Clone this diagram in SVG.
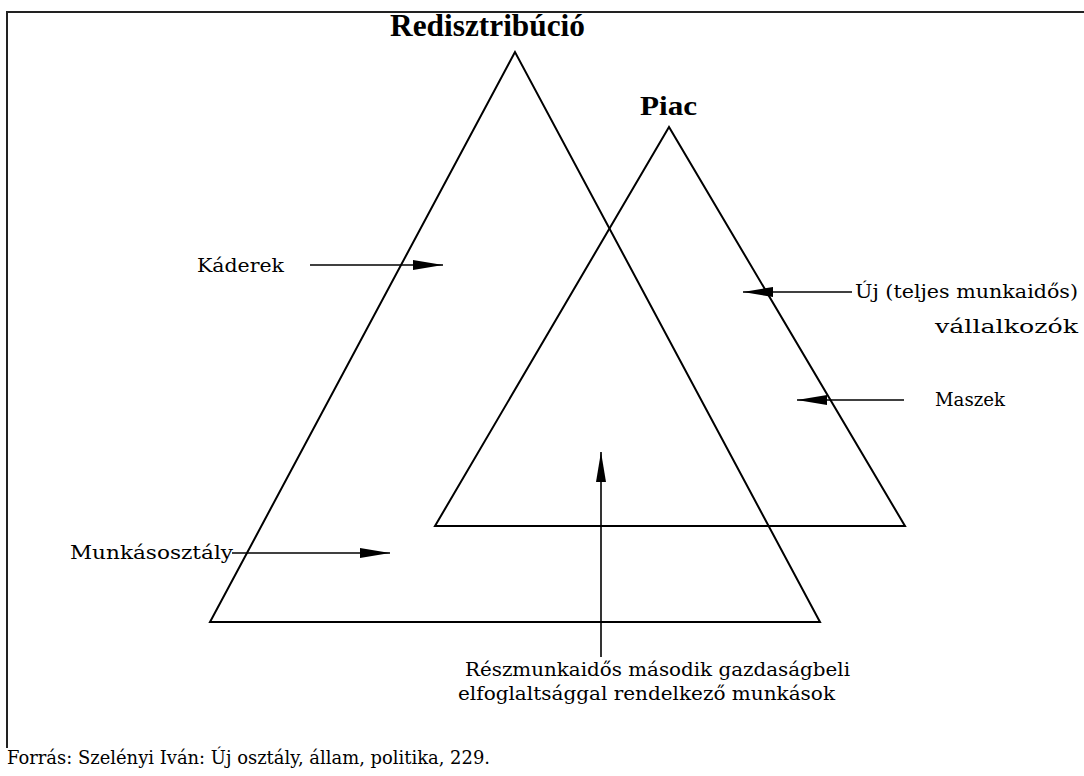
<svg xmlns="http://www.w3.org/2000/svg" width="1084" height="776" viewBox="0 0 1084 776">
<defs>
<marker id="ah" viewBox="0 0 30 10" refX="30" refY="5" markerWidth="30" markerHeight="10" markerUnits="userSpaceOnUse" orient="auto">
<path d="M0,0 L30,5 L0,10 Z" fill="#000"/>
</marker>
</defs>
<style>
.tri{fill:none;stroke:#000;stroke-width:2;stroke-linejoin:miter}
.frame{fill:none;stroke:#222;stroke-width:2}
.arr{stroke:#000;stroke-width:1.6;fill:none;marker-end:url(#ah)}
.title{font-family:"Liberation Serif","DejaVu Serif",serif;font-weight:bold;fill:#000}
.lbl{font-family:"DejaVu Serif","Liberation Serif",serif;font-size:19px;fill:#000}
</style>
<rect width="1084" height="776" fill="#fff"/>
<g id="frame">
<path class="frame" d="M7,748 L7,12 L1084,12"/>
</g>
<g id="redisztribucio">
<polygon class="tri" points="515,52 210,622 820,622"/>
<text class="title" x="390" y="36" font-size="32" textLength="195" lengthAdjust="spacingAndGlyphs">Redisztribúció</text>
</g>
<g id="piac">
<polygon class="tri" points="669,127 435,526 905,526"/>
<text class="title" x="640" y="115" font-size="28" textLength="57" lengthAdjust="spacingAndGlyphs">Piac</text>
</g>
<g id="kaderek">
<text class="lbl" x="197" y="272" textLength="87" lengthAdjust="spacingAndGlyphs">Káderek</text>
</g>
<g id="uj">
<text class="lbl" x="855" y="298" textLength="223" lengthAdjust="spacingAndGlyphs">Új (teljes munkaidős)</text>
<text class="lbl" x="935" y="333" textLength="143" lengthAdjust="spacingAndGlyphs">vállalkozók</text>
</g>
<g id="maszek">
<text class="lbl" x="935" y="406" textLength="70" lengthAdjust="spacingAndGlyphs">Maszek</text>
</g>
<g id="munkasosztaly">
<text class="lbl" x="70" y="559" textLength="163" lengthAdjust="spacingAndGlyphs">Munkásosztály</text>
</g>
<g id="reszmunkaidos">
<text class="lbl" x="465" y="676" textLength="385" lengthAdjust="spacingAndGlyphs">Részmunkaidős második gazdaságbeli</text>
<text class="lbl" x="458" y="700" textLength="377" lengthAdjust="spacingAndGlyphs">elfoglaltsággal rendelkező munkások</text>
</g>
<g id="forras">
<text class="lbl" x="7" y="764" textLength="483" lengthAdjust="spacingAndGlyphs">Forrás: Szelényi Iván: Új osztály, állam, politika, 229.</text>
</g>
<g id="connectors">
<line class="arr" x1="310" y1="265" x2="443" y2="265"/>
<line class="arr" x1="852" y1="292" x2="743" y2="292"/>
<line class="arr" x1="904" y1="400" x2="797" y2="400"/>
<line class="arr" x1="232" y1="553" x2="390" y2="553"/>
<line class="arr" x1="601" y1="657" x2="601" y2="452"/>
</g>
</svg>
